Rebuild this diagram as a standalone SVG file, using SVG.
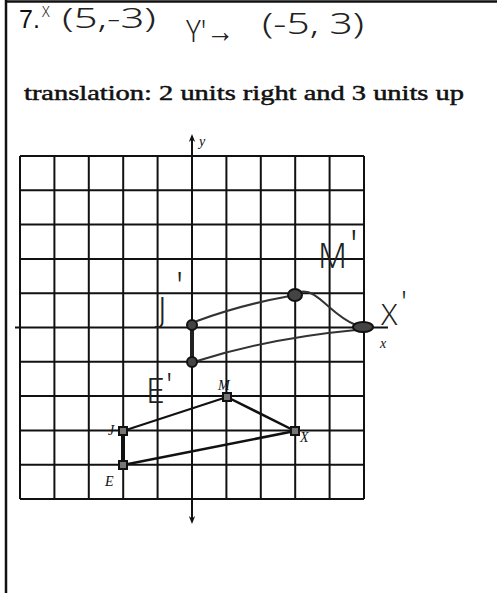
<svg xmlns="http://www.w3.org/2000/svg" width="497" height="593" viewBox="0 0 497 593">
<style>
.grid line{stroke:#111;stroke-width:2}
.typed{font-family:"Liberation Serif",serif;fill:#111;stroke:#111;stroke-width:0.5}
.lab{font-family:"Liberation Serif",serif;font-style:italic;font-size:14px;fill:#111}
.hand{font-family:"Noto Sans",sans-serif;font-weight:300;fill:#222}
.pen{fill:none;stroke:#333;stroke-width:2;stroke-linecap:round}
.orig{stroke:#111;fill:none;stroke-linecap:round}
.pt{fill:#777;stroke:#111;stroke-width:2}
.ipt{fill:#444;stroke:#111;stroke-width:2}
</style>
<defs>
<marker id="ah" viewBox="0 0 10 10" refX="5" refY="5" markerWidth="8" markerHeight="10" orient="auto-start-reverse" markerUnits="userSpaceOnUse">
<path d="M0,1 L10,5 L0,9 L3,5 Z" fill="#111"/>
</marker>
</defs>
<rect width="497" height="593" fill="#fff"/>
<g id="frame">
<line x1="6" y1="0" x2="6" y2="593" stroke="#111" stroke-width="2.5"/>
<line x1="6" y1="1.5" x2="497" y2="1.5" stroke="#111" stroke-width="2.5"/>
</g>
<g id="header">
<text x="19" y="28" font-family="Liberation Sans,sans-serif" font-size="25" fill="#111">7.</text>
<text class="hand" x="42" y="17" font-size="14">X</text>
<text class="hand" x="62" y="28" font-size="27" textLength="94" lengthAdjust="spacingAndGlyphs">(5,-3)</text>
<text class="hand" x="186" y="42" font-size="32" textLength="48" lengthAdjust="spacingAndGlyphs">Y'→</text>
<text class="hand" x="262" y="34" font-size="30" textLength="102" lengthAdjust="spacingAndGlyphs">(-5, 3)</text>
<text class="typed" x="24" y="100" font-size="22" textLength="440" lengthAdjust="spacingAndGlyphs">translation: 2 units right and 3 units up</text>
</g>
<g id="grid" class="grid">
<line x1="20" y1="156" x2="20" y2="499"/>
<line x1="54.4" y1="156" x2="54.4" y2="499"/>
<line x1="88.8" y1="156" x2="88.8" y2="499"/>
<line x1="123.2" y1="156" x2="123.2" y2="499"/>
<line x1="157.6" y1="156" x2="157.6" y2="499"/>
<line x1="226.4" y1="156" x2="226.4" y2="499"/>
<line x1="260.8" y1="156" x2="260.8" y2="499"/>
<line x1="295.2" y1="156" x2="295.2" y2="499"/>
<line x1="329.6" y1="156" x2="329.6" y2="499"/>
<line x1="364" y1="156" x2="364" y2="499"/>
<line x1="20" y1="156" x2="364" y2="156"/>
<line x1="20" y1="190.3" x2="364" y2="190.3"/>
<line x1="20" y1="224.6" x2="364" y2="224.6"/>
<line x1="20" y1="258.9" x2="364" y2="258.9"/>
<line x1="20" y1="293.2" x2="364" y2="293.2"/>
<line x1="20" y1="361.8" x2="364" y2="361.8"/>
<line x1="20" y1="396.1" x2="364" y2="396.1"/>
<line x1="20" y1="430.4" x2="364" y2="430.4"/>
<line x1="20" y1="464.7" x2="364" y2="464.7"/>
<line x1="20" y1="499" x2="364" y2="499"/>
</g>
<g id="axes">
<line x1="15" y1="327.5" x2="388" y2="327.5" stroke="#111" stroke-width="2"/>
<line x1="192" y1="138" x2="192" y2="520" stroke="#111" stroke-width="2" marker-start="url(#ah)" marker-end="url(#ah)"/>
<text class="lab" x="199" y="146">y</text>
<text class="lab" x="380" y="348" font-size="11">x</text>
</g>
<g id="connectors">
<line class="orig" x1="123" y1="431" x2="227" y2="397" stroke-width="2"/>
<line class="orig" x1="227" y1="397" x2="295" y2="431" stroke-width="2.5"/>
<line class="orig" x1="295" y1="431" x2="123" y2="465" stroke-width="2.5"/>
<line class="orig" x1="123" y1="431" x2="123" y2="465" stroke-width="4"/>
<path class="pen" d="M197,321 Q240,305 290,296"/>
<path class="pen" d="M300,292 C318,288 330,315 356,325"/>
<path class="pen" d="M356,330 Q270,338 197,361"/>
<line x1="192" y1="326" x2="192" y2="361" stroke="#222" stroke-width="4"/>
</g>
<g id="J"><rect class="pt" x="119" y="427" width="8" height="8"/><text class="lab" x="108" y="435">J</text></g>
<g id="E"><rect class="pt" x="119" y="461" width="8" height="8"/><text class="lab" x="105" y="486">E</text></g>
<g id="M"><rect class="pt" x="223" y="393" width="8" height="8"/><text class="lab" x="218" y="390">M</text></g>
<g id="X"><rect class="pt" x="291" y="427" width="8" height="8"/><text class="lab" x="300" y="442">X</text></g>
<g id="Jp"><circle class="ipt" cx="192" cy="325" r="5"/><text class="hand" x="158" y="322" font-size="34">J</text><text class="hand" x="176" y="298" font-size="36">'</text></g>
<g id="Ep"><circle class="ipt" cx="192" cy="362" r="5"/><text class="hand" x="146" y="403" font-size="34">E</text><text class="hand" x="166" y="395" font-size="32">'</text></g>
<g id="Mp"><ellipse class="ipt" cx="295" cy="295" rx="7" ry="6"/><text class="hand" x="318" y="268" font-size="34" textLength="29" lengthAdjust="spacingAndGlyphs">M</text><text class="hand" x="350" y="258" font-size="38">'</text></g>
<g id="Xp"><ellipse class="ipt" cx="363" cy="327" rx="10" ry="5"/><text class="hand" x="381" y="325" font-size="30">X</text><text class="hand" x="401" y="312" font-size="30">'</text></g>
</svg>
